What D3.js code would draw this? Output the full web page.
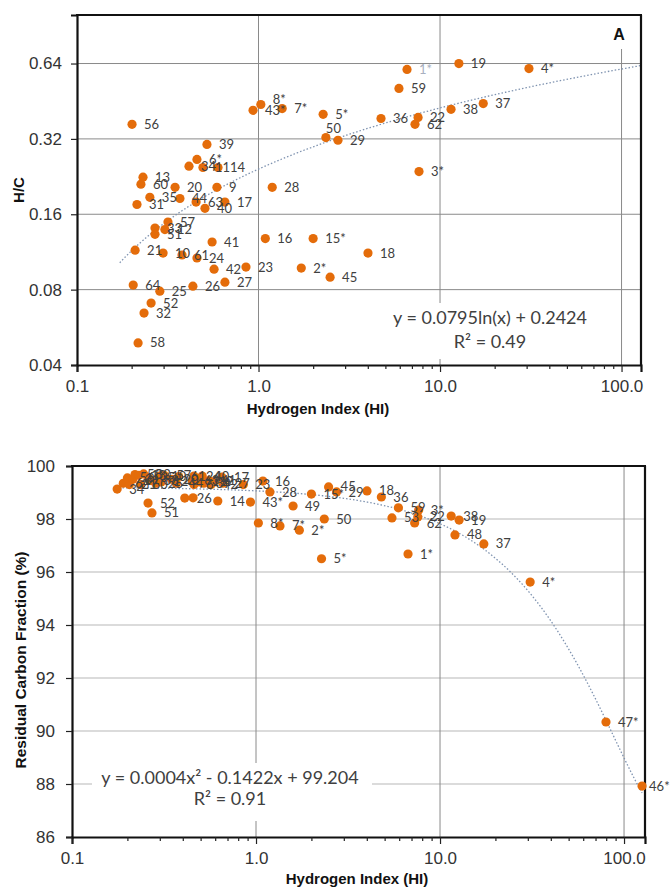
<!DOCTYPE html>
<html><head><meta charset="utf-8">
<script src="https://cdn.jsdelivr.net/npm/d3@7"></script>
<style>body{margin:0;background:#fff}svg{display:block}</style>
</head><body>
<svg id="c" width="672" height="887"></svg>
<script>
// ---------- DATA ----------
const topLabels = ["56","39","6*","34","11","14","13","60","20","9","28","35","44","63","40","17","31","57","33","12","51","41","21","10","61","24","42","23","64","25","26","27","52","32","58","16","15*","2*","45","18","8*","43*","7*","5*","50","29","36","22","62","3*","1*","59","19","38","37","4*"];
const topHI = [0.201,0.520,0.458,0.414,0.494,0.598,0.231,0.225,0.347,0.590,1.19,0.252,0.369,0.453,0.507,0.653,0.214,0.317,0.269,0.305,0.269,0.555,0.209,0.298,0.379,0.458,0.569,0.853,0.204,0.286,0.435,0.653,0.256,0.234,0.217,1.09,2.00,1.72,2.48,4.01,1.03,0.933,1.35,2.27,2.35,2.74,4.73,7.57,7.28,7.66,6.58,5.94,12.7,11.5,17.3,30.9];
const topHC = [0.366,0.304,0.265,0.249,0.246,0.246,0.225,0.211,0.205,0.205,0.205,0.187,0.185,0.179,0.169,0.179,0.175,0.149,0.141,0.139,0.133,0.124,0.115,0.112,0.110,0.107,0.0966,0.0984,0.0834,0.0789,0.0826,0.0857,0.0707,0.0645,0.0490,0.128,0.128,0.0975,0.0897,0.112,0.439,0.416,0.423,0.401,0.324,0.316,0.386,0.390,0.366,0.237,0.606,0.509,0.640,0.420,0.443,0.611];

const botLabels = ["34","64","21","56","31","58","13","60","32","35","33","25","10","12","57","20","44","61","63","6*","24","11","40","39","41","42","9","17","27","23","52","51","26","","14","43*","16","28","49","15*","45","29","18","36","59","53","3*","22","62","1*","38","19","48","37","4*","47*","46*","50","2*","7*","8*","5*"];
const botHI = [0.176,0.19,0.205,0.20,0.214,0.22,0.231,0.236,0.245,0.26,0.27,0.286,0.298,0.305,0.317,0.347,0.369,0.38,0.45,0.46,0.46,0.494,0.51,0.52,0.555,0.57,0.59,0.653,0.66,0.853,0.259,0.272,0.41,0.455,0.62,0.933,1.09,1.19,1.59,2.00,2.48,2.74,4.01,4.8,5.94,5.48,7.66,7.57,7.28,6.7,11.5,12.7,12.06,17.3,30.9,79.8,125.3,2.35,1.72,1.35,1.03,2.27];
const botRCF = [99.13,99.35,99.3,99.55,99.5,99.68,99.65,99.3,99.7,99.55,99.45,99.35,99.62,99.4,99.65,99.5,99.35,99.6,99.45,99.3,99.62,99.4,99.62,99.35,99.45,99.3,99.4,99.58,99.35,99.3,98.60,98.23,98.79,98.8,98.68,98.64,99.43,99.02,98.49,98.94,99.21,99.02,99.06,98.83,98.42,98.04,98.34,98.08,97.85,96.68,98.11,97.96,97.40,97.06,95.62,90.34,87.92,98.0,97.58,97.74,97.85,96.5];

const topXTicks = [0.1, 1, 10, 100];
const topXTickText = ["0.1","1.0","10.0","100.0"];
const topYTicks = [0.04, 0.08, 0.16, 0.32, 0.64];
const botYTicks = [86, 88, 90, 92, 94, 96, 98, 100];

const topFit = {a: 0.0795, b: 0.2424, x0: 0.172};
const botFit = {a: 0.0004, b: -0.1422, c: 99.204, x0: 0.18, x1: 125.3};
const topEq = ["y = 0.0795ln(x) + 0.2424", "R² = 0.49"];
const botEq = ["y = 0.0004x² - 0.1422x + 99.204", "R² = 0.91"];

// label nudges (layout only)
const topNudge = {"50":[-12,-9], "8*":[0,-5]};
const botNudge = {"46*":[-5,0]};

// ---------- DRAW ----------
const svg = d3.select("#c");
const ORANGE = "#E46C0A", LABEL = "#404040", GRID = "#8a8a8a";
const tickFont = "'Liberation Sans', Arial, sans-serif";
const lblFont = "Lato, 'Open Sans', sans-serif";

function minorTicks(dom){
  const out=[];
  for(let d=0.1; d<dom[1]; d*=10){
    for(let k=2;k<=9;k++){ const v=+(d*k).toPrecision(3); if(v<dom[1]) out.push(v); }
  }
  return out;
}

function panel(o){
  const g = svg.append("g");
  const x = d3.scaleLog().domain(o.xDom).range([o.L, o.R]);
  const y = o.yScale;
  g.append("g").selectAll("line").data(o.hGrid).join("line")
    .attr("x1", o.L).attr("x2", o.R).attr("y1", d=>y(d)).attr("y2", d=>y(d))
    .attr("stroke", o.hGridColor).attr("stroke-width", o.hGridW);
  g.append("g").selectAll("line").data([1,10,100]).join("line")
    .attr("x1", d=>x(d)).attr("x2", d=>x(d))
    .attr("y1", d=> (d===100 && o.gridTop100) ? o.gridTop100 : o.T).attr("y2", o.B)
    .attr("stroke", GRID).attr("stroke-width", 1);
  g.append("rect").attr("x", o.eqBox[0]).attr("y", o.eqBox[1]).attr("width", o.eqBox[2]).attr("height", o.eqBox[3]).attr("fill", "#fff");
  const xs = d3.range(0, 201).map(i => Math.exp(Math.log(o.fitX0) + (Math.log(o.fitX1) - Math.log(o.fitX0)) * i/200));
  g.append("path").datum(xs)
    .attr("d", d3.line().x(d=>x(d)).y(d=>y(o.fit(d))))
    .attr("fill","none").attr("stroke","#7f93b0").attr("stroke-width",1.3).attr("stroke-dasharray","1.5,2");
  const xa = g.append("g").attr("transform", `translate(0,${o.B})`)
    .call(d3.axisBottom(x).tickValues(topXTicks).tickFormat((d,i)=>topXTickText[i]).tickSize(7).tickPadding(8));
  const xm = g.append("g").attr("transform", `translate(0,${o.B})`)
    .call(d3.axisBottom(x).tickValues(minorTicks(o.xDom)).tickFormat("").tickSize(4));
  xm.select(".domain").remove();
  const ya = g.append("g").attr("transform", `translate(${o.L},0)`)
    .call(d3.axisLeft(y).tickValues(o.yTicks).tickFormat(o.yFmt).tickSize(6).tickPadding(o.yPad));
  [xa, xm, ya].forEach(a=>{
    a.selectAll("line").attr("stroke","#222").attr("stroke-width",1.2);
    a.select(".domain").attr("stroke","#111").attr("stroke-width",2.2);
    a.selectAll("text").attr("font-family", tickFont).attr("font-size", 17).attr("fill","#333");
  });
  g.append("line").attr("x1",o.L-1).attr("x2",o.R+1).attr("y1",o.T).attr("y2",o.T).attr("stroke","#111").attr("stroke-width",2.2);
  g.append("line").attr("x1",o.R).attr("x2",o.R).attr("y1",o.T).attr("y2",o.B).attr("stroke","#111").attr("stroke-width",2.2);
  const pts = o.labels.map((l,i)=>({l, x:o.xv[i], y:o.yv[i]}));
  g.append("g").selectAll("circle").data(pts).join("circle")
    .attr("cx", d=>x(d.x)).attr("cy", d=>y(d.y)).attr("r", 4.6).attr("fill", ORANGE);
  g.append("g").selectAll("text").data(pts).join("text")
    .attr("x", d=>x(d.x) + 12 + ((o.nudge[d.l]||[0,0])[0]))
    .attr("y", d=>y(d.y) + ((o.nudge[d.l]||[0,0])[1]))
    .attr("dy","0.35em")
    .attr("font-family", lblFont).attr("font-size", 13)
    .attr("fill", d => d.l===o.faded ? "#a8b0c0" : LABEL)
    .text(d=>d.l);
  o.eq.forEach((t,i)=>{
    g.append("text").attr("x", o.eqPos[0]).attr("y", o.eqPos[1] + i*o.eqGap).attr("text-anchor","middle")
      .attr("font-family", lblFont).attr("font-size", 18).attr("fill", LABEL).text(t);
  });
  g.append("text").attr("x", o.xTitle[0]).attr("y", o.xTitle[1]).attr("text-anchor","middle")
    .attr("font-family", tickFont).attr("font-weight","bold").attr("font-size",15).attr("fill","#111").text("Hydrogen Index (HI)");
  g.append("text").attr("transform", `translate(${o.yTitle[0]},${o.yTitle[1]}) rotate(-90)`).attr("text-anchor","middle")
    .attr("font-family", tickFont).attr("font-weight","bold").attr("font-size",o.yTitleSize).attr("fill","#111").text(o.yTitleText);
  return {x,y,g};
}

const topY = d3.scaleLog().base(2).domain([0.04, 1.0]).range([365, 15]);
const P1 = panel({
  L:77, R:641, T:15, B:365, xDom:[0.1,128], yScale:topY,
  hGrid:[0.08,0.16,0.32,0.64], hGridColor:GRID, hGridW:1, gridTop100:49,
  yTicks:topYTicks, yFmt:d=>String(d), yPad:9,
  fit:v=>topFit.a*Math.log(v)+topFit.b, fitX0:topFit.x0, fitX1:128,
  labels:topLabels, xv:topHI, yv:topHC, nudge:topNudge, faded:"1*",
  eq:topEq, eqPos:[490,324], eqGap:24, eqBox:[380,303,220,56],
  xTitle:[318,414], yTitle:[24,190], yTitleText:"H/C", yTitleSize:15
});
P1.g.append("text").attr("x",619).attr("y",40).attr("text-anchor","middle")
  .attr("font-family",tickFont).attr("font-weight","bold").attr("font-size",16).attr("fill","#111").text("A");

const botY = d3.scaleLinear().domain([86,100]).range([837,466]);
panel({
  L:72, R:645, T:466, B:837, xDom:[0.1,130], yScale:botY,
  hGrid:[88,90,92,94,96,98], hGridColor:"#cfcfcf", hGridW:1.5,
  yTicks:botYTicks, yFmt:d=>String(d), yPad:11,
  fit:v=>botFit.a*v*v+botFit.b*v+botFit.c, fitX0:botFit.x0, fitX1:botFit.x1,
  labels:botLabels, xv:botHI, yv:botRCF, nudge:botNudge, faded:null,
  eq:botEq, eqPos:[230,784], eqGap:21, eqBox:[92,763,280,58],
  xTitle:[357,884], yTitle:[26,660], yTitleText:"Residual Carbon Fraction (%)", yTitleSize:15.5
});
</script>
</body></html>
